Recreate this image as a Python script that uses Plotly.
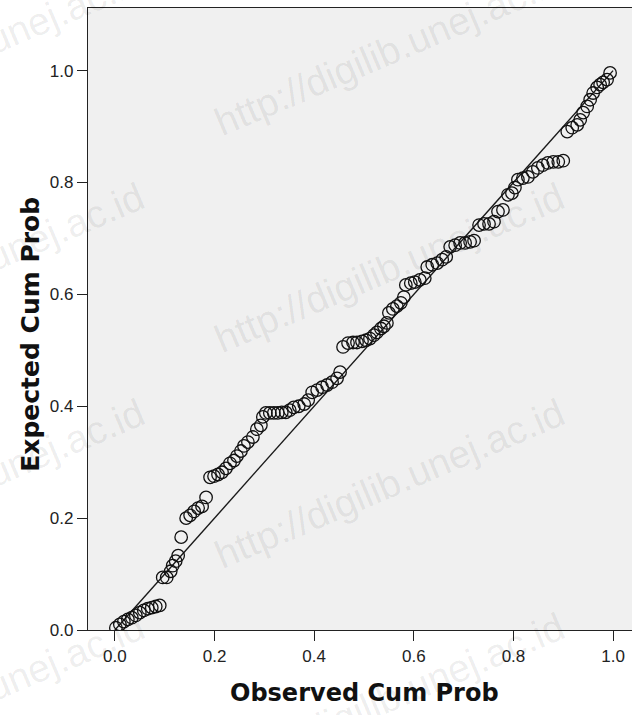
import plotly.graph_objects as go

# Observed cumulative probability (x) and expected cumulative probability (y)
observed = [0.002, 0.010, 0.018, 0.026, 0.034, 0.042, 0.050, 0.058, 0.066, 0.074, 0.082, 0.090,
            0.096, 0.104, 0.112, 0.116, 0.122, 0.127, 0.133, 0.143, 0.151, 0.159, 0.167, 0.175, 0.183,
            0.191, 0.199, 0.207, 0.215, 0.223, 0.231, 0.239, 0.245, 0.253, 0.259, 0.267, 0.277, 0.285,
            0.293, 0.297, 0.303, 0.311, 0.319, 0.327, 0.335, 0.343, 0.351, 0.359, 0.369, 0.380, 0.388,
            0.396, 0.406, 0.416, 0.426, 0.436, 0.446, 0.452, 0.458, 0.468, 0.478, 0.486, 0.496, 0.504,
            0.512, 0.520, 0.526, 0.534, 0.540, 0.546, 0.550, 0.558, 0.566, 0.574, 0.580, 0.584, 0.594,
            0.602, 0.612, 0.622, 0.627, 0.637, 0.647, 0.657, 0.665, 0.673, 0.683, 0.693, 0.703, 0.713,
            0.721, 0.731, 0.741, 0.751, 0.761, 0.769, 0.779, 0.789, 0.797, 0.803, 0.809, 0.819, 0.829,
            0.839, 0.849, 0.859, 0.869, 0.880, 0.890, 0.900, 0.908, 0.918, 0.928, 0.934, 0.940, 0.948,
            0.954, 0.960, 0.968, 0.974, 0.980, 0.988, 0.994]
expected = [0.004, 0.010, 0.015, 0.019, 0.022, 0.026, 0.031, 0.035, 0.038, 0.040, 0.042, 0.044,
            0.094, 0.094, 0.105, 0.115, 0.123, 0.133, 0.166, 0.200, 0.205, 0.212, 0.218, 0.221, 0.237,
            0.273, 0.275, 0.278, 0.282, 0.289, 0.298, 0.303, 0.311, 0.320, 0.329, 0.336, 0.345, 0.359,
            0.366, 0.381, 0.388, 0.388, 0.388, 0.388, 0.389, 0.389, 0.393, 0.398, 0.400, 0.404, 0.411,
            0.425, 0.429, 0.434, 0.438, 0.443, 0.450, 0.461, 0.506, 0.513, 0.514, 0.514, 0.516, 0.518,
            0.521, 0.527, 0.532, 0.539, 0.543, 0.549, 0.567, 0.574, 0.579, 0.585, 0.595, 0.617, 0.620,
            0.622, 0.626, 0.629, 0.649, 0.653, 0.656, 0.662, 0.667, 0.685, 0.688, 0.692, 0.692, 0.694,
            0.696, 0.724, 0.726, 0.726, 0.730, 0.748, 0.751, 0.778, 0.781, 0.791, 0.805, 0.808, 0.810,
            0.819, 0.826, 0.831, 0.835, 0.837, 0.837, 0.839, 0.891, 0.898, 0.903, 0.912, 0.925, 0.936,
            0.948, 0.960, 0.970, 0.975, 0.979, 0.984, 0.996]

ref_line = [0.0, 1.0]
tick_vals = [0.0, 0.2, 0.4, 0.6, 0.8, 1.0]
tick_text = ["0.0", "0.2", "0.4", "0.6", "0.8", "1.0"]
x_title = "Observed Cum Prob"
y_title = "Expected Cum Prob"
watermark = "http://digilib.unej.ac.id"

fig = go.Figure()
fig.add_trace(go.Scatter(x=ref_line, y=ref_line, mode="lines",
                         line=dict(color="#1a1a1a", width=1.4), hoverinfo="skip"))
fig.add_trace(go.Scatter(x=observed, y=expected, mode="markers",
                         marker=dict(symbol="circle-open", size=12.5, color="#111111",
                                     line=dict(width=1.3, color="#111111"))))

# watermark annotations (paper coordinates)
wm_positions = [(0.555, 0.931), (-0.217, 0.931), (0.555, 0.582), (-0.217, 0.582),
                (0.555, 0.236), (-0.217, 0.236), (0.555, -0.109), (-0.217, -0.109)]
for (wx, wy) in wm_positions:
    fig.add_annotation(x=wx, y=wy, xref="paper", yref="paper", text=watermark,
                       showarrow=False, textangle=-23, xanchor="center", yanchor="middle",
                       font=dict(family="Liberation Sans, Arial", size=39, color="rgba(0,0,0,0.08)"))

fig.add_annotation(x=0.509, y=-0.101, xref="paper", yref="paper", text="<b>" + x_title + "</b>",
                   showarrow=False, xanchor="center", yanchor="middle",
                   font=dict(family="DejaVu Sans", size=24, color="#111111"))
fig.add_annotation(x=-0.105, y=0.476, xref="paper", yref="paper", text="<b>" + y_title + "</b>",
                   showarrow=False, textangle=-90, xanchor="center", yanchor="middle",
                   font=dict(family="DejaVu Sans", size=25, color="#111111"))

fig.update_layout(
    width=632, height=715,
    margin=dict(l=88, r=0, t=8, b=85),
    paper_bgcolor="white", plot_bgcolor="#f0f0f0",
    showlegend=False,
    xaxis=dict(range=[-0.054, 1.038], tickvals=tick_vals, ticktext=tick_text,
               ticks="outside", ticklen=10, tickwidth=1.2, tickcolor="#222222",
               showline=True, linecolor="#222222", linewidth=1.3, mirror=True,
               showgrid=False, zeroline=False,
               tickfont=dict(family="Liberation Sans, Arial", size=17, color="#222222")),
    yaxis=dict(range=[0, 1.112], tickvals=tick_vals, ticktext=tick_text,
               ticks="outside", ticklen=10, tickwidth=1.2, tickcolor="#222222",
               showline=True, linecolor="#222222", linewidth=1.3, mirror=False,
               showgrid=False, zeroline=False,
               tickfont=dict(family="Liberation Sans, Arial", size=17, color="#222222")),
)

fig.write_html("out.html", config=dict(displayModeBar=False),
               post_script="document.body.style.margin = '0px';")
